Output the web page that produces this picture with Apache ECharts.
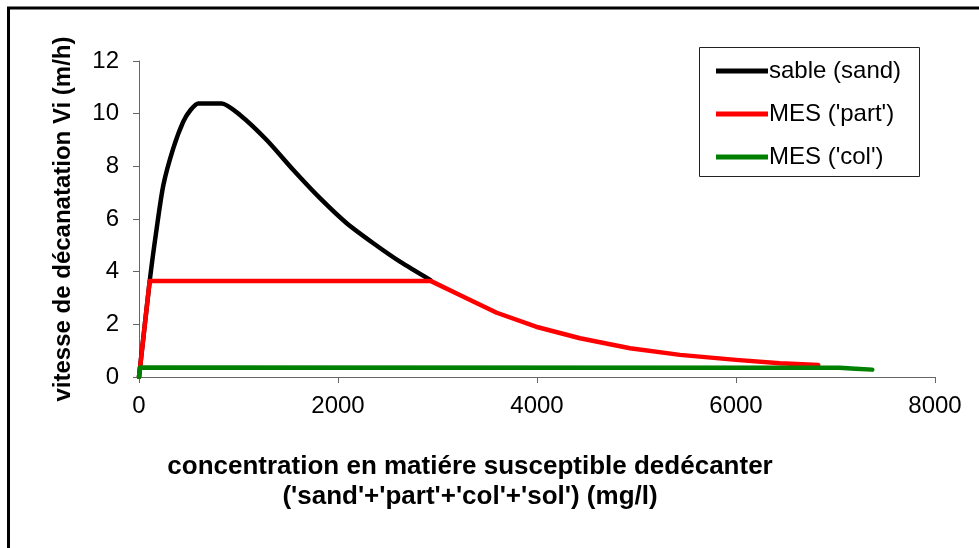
<!DOCTYPE html>
<html>
<head>
<meta charset="utf-8">
<script src="https://cdn.jsdelivr.net/npm/echarts@6/dist/echarts.min.js"></script>
<style>html,body{margin:0;padding:0;background:#fff}#c{width:979px;height:548px}</style>
</head>
<body>
<div id="c"></div>
<script>
var seriesNames = ["sable (sand)", "MES ('part')", "MES ('col')"];
var xTicks = [0, 2000, 4000, 6000, 8000];
var yTicks = [0, 2, 4, 6, 8, 10, 12];

var sandX = [0, 111, 178, 245, 345, 445, 520, 596, 831, 1015, 1283, 1551, 1819, 2087, 2355, 2623, 2930];
var sandY = [0, 3.75, 5.65, 7.29, 8.69, 9.7, 10.15, 10.39, 10.39, 9.95, 9.0, 7.86, 6.79, 5.84, 5.08, 4.38, 3.68];

var partX = [0, 107, 2930, 3260, 3595, 3990, 4432, 4935, 5437, 6000, 6442, 6827];
var partY = [0, 3.65, 3.65, 3.05, 2.44, 1.91, 1.47, 1.09, 0.84, 0.65, 0.52, 0.46];

var colX = [0, 10, 7040, 7200, 7370];
var colY = [0, 0.36, 0.35, 0.31, 0.28];

function pairs(xs, ys) { return xs.map(function (x, i) { return [x, ys[i]]; }); }

var FONT = '"Liberation Sans", Arial, sans-serif';
var chart = echarts.init(document.getElementById('c'), null, { renderer: 'canvas' });
chart.setOption({
  animation: false,
  backgroundColor: '#fff',
  grid: { left: 139, right: 44, top: 61, bottom: 171, containLabel: false },
  xAxis: {
    type: 'value', min: xTicks[0], max: xTicks[xTicks.length - 1], interval: 2000,
    axisLine: { show: true, lineStyle: { color: '#666', width: 1 } },
    axisTick: { show: true, length: 6, lineStyle: { color: '#666' } },
    splitLine: { show: false },
    axisLabel: { margin: 17, color: '#000', fontSize: 24, fontFamily: FONT, formatter: function (v) { return String(v); } }
  },
  yAxis: {
    type: 'value', min: yTicks[0], max: yTicks[yTicks.length - 1], interval: 2,
    name: 'vitesse de décanatation Vi (m/h)', nameLocation: 'middle', nameGap: 64,
    nameTextStyle: { color: '#000', fontSize: 24, fontWeight: 'bold', fontFamily: FONT },
    axisLine: { show: true, lineStyle: { color: '#666', width: 1 } },
    axisTick: { show: true, length: 6, lineStyle: { color: '#666' } },
    splitLine: { show: false },
    axisLabel: { margin: 20, color: '#000', fontSize: 24, fontFamily: FONT, formatter: function (v) { return String(v); } }
  },
  legend: {
    orient: 'vertical', left: 711, top: 54,
    data: seriesNames,
    icon: 'rect', itemWidth: 52, itemHeight: 5, itemGap: 19,
    textStyle: { color: '#000', fontSize: 24, fontFamily: FONT, lineHeight: 24, padding: [0, 0, 0, -4] }
  },
  graphic: [
    { type: 'rect', left: 697, top: 45, shape: { width: 220, height: 129 }, style: { fill: 'none', stroke: '#222', lineWidth: 1 } },
    { type: 'rect', shape: { x: 8.5, y: 8, width: 1000, height: 600 }, style: { fill: 'none', stroke: '#000', lineWidth: 3 } },
    { type: 'text', x: 470, y: 452, style: { text: "concentration en matiére susceptible dedécanter\n('sand'+'part'+'col'+'sol') (mg/l)", textAlign: 'center', fill: '#000', font: 'bold 26px ' + FONT, lineHeight: 30 } }
  ],
  series: [
    { name: seriesNames[0], type: 'line', data: pairs(sandX, sandY), showSymbol: false, smooth: 0.25,
      color: '#000', lineStyle: { color: '#000', width: 4.5, cap: 'round', join: 'round' } },
    { name: seriesNames[1], type: 'line', data: pairs(partX, partY), showSymbol: false, smooth: false,
      color: '#ff0000', lineStyle: { color: '#ff0000', width: 4.5, cap: 'round', join: 'round' } },
    { name: seriesNames[2], type: 'line', data: pairs(colX, colY), showSymbol: false, smooth: false,
      color: '#008000', lineStyle: { color: '#008000', width: 4.5, cap: 'round', join: 'round' } }
  ]
});
</script>
</body>
</html>
